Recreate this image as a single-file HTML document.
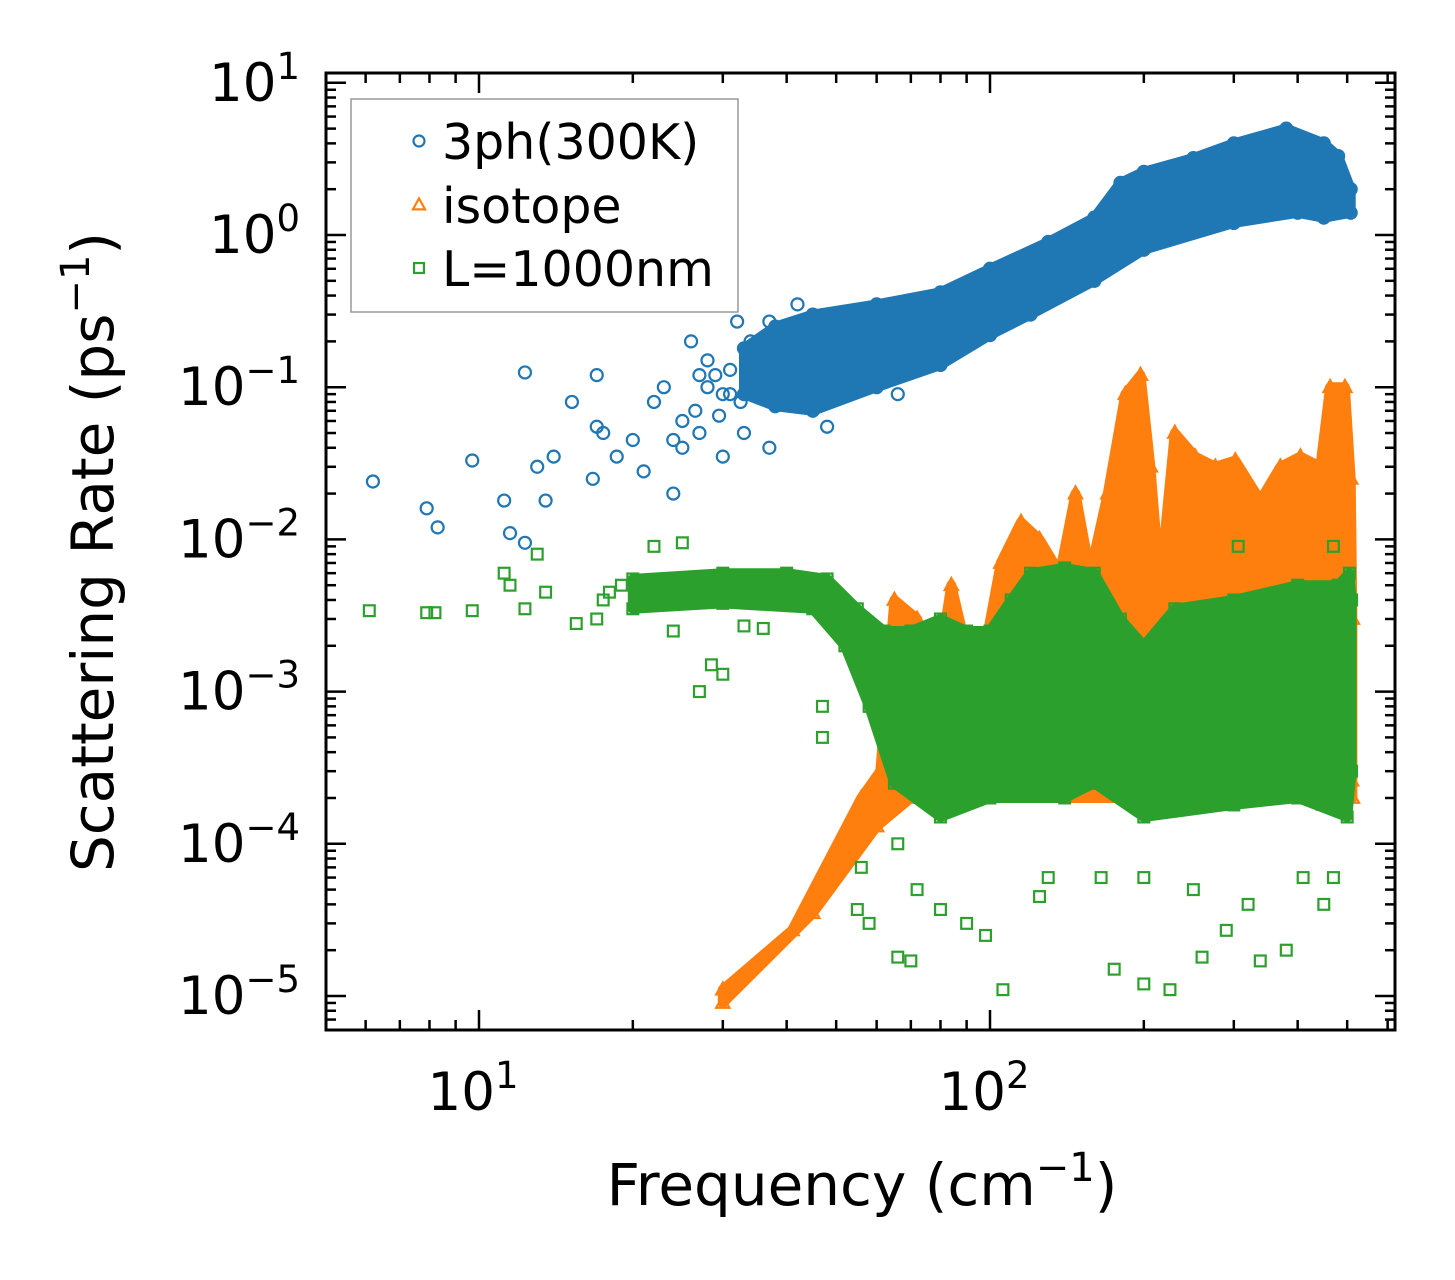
<!DOCTYPE html>
<html><head><meta charset="utf-8"><style>
html,body{margin:0;padding:0;background:#fff;}
svg{display:block;font-family:"DejaVu Sans","Liberation Sans",sans-serif;}
</style></head><body>
<svg id="chart" width="1455" height="1280" viewBox="0 0 1455 1280" xmlns="http://www.w3.org/2000/svg">
<defs><clipPath id="plotclip"><rect x="326" y="73" width="1069" height="957"/></clipPath></defs>
<g id="bands" clip-path="url(#plotclip)"></g>
<g id="axes"></g>
</svg>
<script>
// ---- data (frequency in cm^-1, rate in ps^-1) ----
const blueBandTop = [[33,0.18],[38,0.25],[45,0.3],[60,0.35],[80,0.42],[100,0.6],[130,0.9],[160,1.3],[180,2.2],[200,2.6],[250,3.2],[300,4],[380,5],[450,4],[480,3.3],[508,2]];
const blueBandBot = [[508,1.4],[450,1.3],[400,1.4],[300,1.2],[200,0.8],[160,0.5],[120,0.3],[100,0.22],[80,0.14],[60,0.1],[45,0.07],[38,0.075],[33,0.09]];
const blueX = [6.2,7.9,8.3,9.7,11.2,11.5,12.3,12.3,13,13.5,14,15.2,17,17,16.7,17.5,18.6,20,21,22,23,24,25,26,27,28,30,32,33,37,37,42,48,50,56,66,29,31,34,36,39,41,44,25,26.5,28,29.5,31,32.5,35,24,27,30];
const blueY = [0.024,0.016,0.012,0.033,0.018,0.011,0.0095,0.125,0.03,0.018,0.035,0.08,0.12,0.055,0.025,0.05,0.035,0.045,0.028,0.08,0.1,0.02,0.06,0.2,0.05,0.15,0.035,0.27,0.05,0.04,0.27,0.35,0.055,0.11,0.1,0.09,0.12,0.09,0.2,0.15,0.1,0.25,0.13,0.04,0.07,0.1,0.065,0.13,0.08,0.17,0.045,0.12,0.09];
const orangeBandTop = [[30,1.1e-5],[41,2.7e-5],[56,2e-4],[61,3e-4],[65,4e-3],[72,3e-3],[78,1e-3],[84,5e-3],[89,2.2e-3],[98,2e-3],[105,7e-3],[115,1.3e-2],[125,1e-2],[137,6e-3],[147,2e-2],[157,6e-3],[170,2e-2],[184,9e-2],[197,1.2e-1],[206,3e-2],[215,5e-3],[230,5e-2],[252,3.5e-2],[276,3e-2],[302,3.3e-2],[338,1.8e-2],[370,3e-2],[405,3.5e-2],[443,3e-2],[463,1e-1],[495,1e-1],[508,2.5e-2],[512,3e-3]];
const orangeBandBot = [[512,2e-4],[300,2e-4],[70,2e-4],[60,1.3e-4],[45,3.5e-5],[30,9e-6]];
const orangeX = [470,495,450,510];
const orangeY = [0.048,3.5e-4,1.8e-4,2.6e-4];
const greenBandTop = [[20,5.5e-3],[30,6e-3],[40,6e-3],[48,5.5e-3],[55,3.5e-3],[62,2.5e-3],[70,2.5e-3],[80,3e-3],[90,2.5e-3],[100,2.5e-3],[110,4e-3],[120,6e-3],[140,6.5e-3],[160,6e-3],[180,3e-3],[200,2e-3],[230,3.5e-3],[300,4e-3],[400,5e-3],[480,5e-3],[505,6e-3],[510,4e-3]];
const greenBandBot = [[510,3e-4],[500,1.5e-4],[400,2e-4],[300,1.8e-4],[200,1.5e-4],[160,2.5e-4],[140,2e-4],[100,2e-4],[80,1.5e-4],[65,2.5e-4],[58,8e-4],[52,2e-3],[45,3.5e-3],[30,3.8e-3],[20,3.5e-3]];
const greenX = [6.1,7.9,8.2,9.7,11.2,11.5,12.3,13,13.5,15.5,17,24,27,28.5,30,33,36,47,47,55,58,66,70,80,90,98,106,125,130,165,175,200,225,260,290,338,380,450,470,410,320,250,200,66,72,56,306,470,506,22,25,18,19,17.5];
const greenY = [3.4e-3,3.3e-3,3.3e-3,3.4e-3,6e-3,5e-3,3.5e-3,8e-3,4.5e-3,2.8e-3,3e-3,2.5e-3,1e-3,1.5e-3,1.3e-3,2.7e-3,2.6e-3,8e-4,5e-4,3.7e-5,3e-5,1.8e-5,1.7e-5,3.7e-5,3e-5,2.5e-5,1.1e-5,4.5e-5,6e-5,6e-5,1.5e-5,1.2e-5,1.1e-5,1.8e-5,2.7e-5,1.7e-5,2e-5,4e-5,6e-5,6e-5,4e-5,5e-5,6e-5,1e-4,5e-5,7e-5,9e-3,9e-3,2.2e-3,9e-3,9.5e-3,4.5e-3,5e-3,4e-3];
const xTickVals = [10,100];
const xTickLabels = ["10","10"];
const xTickExp = ["1","2"];
const yTickVals = [10,1,0.1,0.01,0.001,1e-4,1e-5];
const yTickExp = ["1","0","\u22121","\u22122","\u22123","\u22124","\u22125"];

// ---- axes ----
const L=326,R=1395,T=73,B=1030;
const X10=479, DX=511, Y1=235, DY=152.2;
const sx = v => X10 + (Math.log10(v)-1)*DX;
const sy = v => Y1 - Math.log10(v)*DY;
const NS="http://www.w3.org/2000/svg";
function mk(tag, attrs, parent){const e=document.createElementNS(NS,tag);for(const k in attrs)e.setAttribute(k,attrs[k]);parent.appendChild(e);return e;}
const bands=document.getElementById('bands'), axes=document.getElementById('axes');
const C={blue:"#1f77b4",orange:"#ff7f0e",green:"#2ca02c"};

function band(top,bot,color,name){
  const pts=top.concat(bot).map(p=>sx(p[0]).toFixed(1)+","+sy(p[1]).toFixed(1)).join(" ");
  const p=mk('polygon',{points:pts,fill:color,stroke:color,'stroke-width':10,'stroke-linejoin':'round'},bands);
  
  
}
function marker(kind,x,y,color,parent,big){
  let e; const k=big?1.2:1.1;
  if(kind==='o') e=mk('circle',{cx:x,cy:y,r:5*k,fill:'none',stroke:color,'stroke-width':2.2},parent);
  else if(kind==='^') e=mk('polygon',{points:`${x},${y-6*k} ${x+5.5*k},${y+4*k} ${x-5.5*k},${y+4*k}`,fill:'none',stroke:color,'stroke-width':2.2},parent);
  else e=mk('rect',{x:x-4.5*k,y:y-4.5*k,width:9*k,height:9*k,fill:'none',stroke:color,'stroke-width':2.2},parent);
  return e;
}
function series(top,bot,xs,ys,kind,color,name){
  const g=mk('g',{},bands);
  
  
  band(top,bot,color,name+'-dense-region');
  top.concat(bot).forEach(p=>{const m=marker(kind,sx(p[0]),sy(p[1]),color,g,true);
    
    });
  xs.forEach((v,i)=>{const m=marker(kind,sx(v),sy(ys[i]),color,g,true);
    
    });
}
series(blueBandTop,blueBandBot,blueX,blueY,'o',C.blue,'3ph-300k');
series(orangeBandTop,orangeBandBot,orangeX,orangeY,'^',C.orange,'isotope');
series(greenBandTop,greenBandBot,greenX,greenY,'s',C.green,'l-1000nm');

const fr=mk('rect',{x:L,y:T,width:R-L,height:B-T,fill:'none',stroke:'#000','stroke-width':3},axes);

for(let d=1;d<=100;d*=10){for(let m=1;m<10;m++){const v=d*m;const x=sx(v);if(x<L||x>R)continue;
  const len=(m===1)?20:10;
  mk('line',{x1:x,y1:B,x2:x,y2:B-len,stroke:'#000','stroke-width':2.5},axes);
  mk('line',{x1:x,y1:T,x2:x,y2:T+len,stroke:'#000','stroke-width':2.5},axes);}}
for(let d=1e-6;d<=100;d*=10){for(let m=1;m<10;m++){const v=d*m;const y=sy(v);if(y<T||y>B)continue;
  const len=(m===1)?20:10;
  mk('line',{x1:L,y1:y,x2:L+len,y2:y,stroke:'#000','stroke-width':2.5},axes);
  mk('line',{x1:R,y1:y,x2:R-len,y2:y,stroke:'#000','stroke-width':2.5},axes);}}
xTickVals.forEach((v,i)=>{const t=mk('text',{x:sx(v)-6,y:1110,'font-size':53,'text-anchor':'middle'},axes);
  
  t.textContent=xTickLabels[i];
  const s=mk('tspan',{'font-size':37,dy:-22},t);s.textContent=xTickExp[i];});
yTickVals.forEach((v,i)=>{const t=mk('text',{x:300,y:sy(v)+18,'font-size':53,'text-anchor':'end'},axes);
  
  t.appendChild(document.createTextNode('10'));
  const s=mk('tspan',{'font-size':37,dy:-22},t);s.textContent=yTickExp[i];});
const xt=mk('text',{x:862,y:1205,'font-size':58,'text-anchor':'middle'},axes);

xt.appendChild(document.createTextNode('Frequency (cm'));
mk('tspan',{'font-size':40,dy:-24},xt).textContent='\u22121';
mk('tspan',{dy:24},xt).textContent=')';
const yt=mk('text',{x:0,y:0,'font-size':58,'text-anchor':'middle',transform:'translate(113,552) rotate(-90)'},axes);

yt.appendChild(document.createTextNode('Scattering Rate (ps'));
mk('tspan',{'font-size':40,dy:-24},yt).textContent='\u22121';
mk('tspan',{dy:24},yt).textContent=')';
const lg=mk('g',{},axes);
mk('rect',{x:351,y:99,width:387,height:213,fill:'#fff','fill-opacity':0.85,stroke:'#999','stroke-width':1.5},lg);
const legItems=[['o',C.blue,'3ph(300K)',141],['^',C.orange,'isotope',205],['s',C.green,'L=1000nm',268]];
legItems.forEach(it=>{const e=mk('g',{},lg);
  marker(it[0],419,it[3],it[1],e,false);
  const t=mk('text',{x:442,y:it[3]+18,'font-size':49},e);t.textContent=it[2];});
</script>
</body></html>
